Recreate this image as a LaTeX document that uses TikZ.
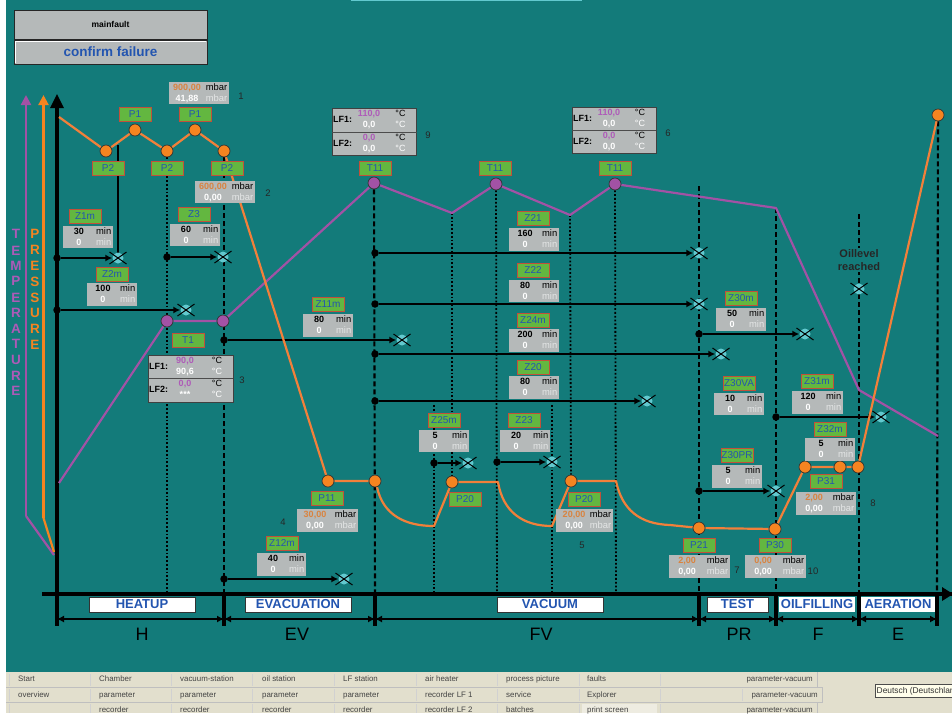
\documentclass[tikz,border=0pt]{standalone}
\usepackage{fontspec}
\setmainfont{Liberation Sans}
\usetikzlibrary{arrows.meta,shapes.misc,calc}
\definecolor{tealbg}{HTML}{137B7A}
\definecolor{gboxc}{HTML}{B5B9B9}
\definecolor{greenl}{HTML}{63B740}
\definecolor{redl}{HTML}{C2503A}
\definecolor{bluet}{HTML}{2355B0}
\definecolor{orangel}{HTML}{F2803A}
\definecolor{orangec}{HTML}{F58420}
\definecolor{purplel}{HTML}{A252A5}
\definecolor{orangev}{HTML}{D9833F}
\definecolor{purplev}{HTML}{AE5AB8}
\definecolor{beige}{HTML}{E2DFCD}
\definecolor{cyanv}{HTML}{62C9CF}
\definecolor{lightt}{HTML}{E4E6E6}
\definecolor{paneltxt}{HTML}{444444}
\pgfdeclarelayer{under}
\pgfsetlayers{under,main}
\tikzset{
  greenbox/.style={draw=redl,line width=1pt,fill=greenl,text=bluet,minimum width=32pt,minimum height=14pt,inner sep=0pt,font=\fontsize{10}{12}\selectfont},
  gbox/.style={fill=gboxc,inner sep=0pt,outer sep=0pt},
  lfframe/.style={fill=gboxc,draw=black!75,line width=0.8pt,inner sep=0pt,outer sep=0pt},
  vt/.style={inner sep=0pt,anchor=mid,font=\fontsize{9}{10}\selectfont},
  vb/.style={inner sep=0pt,anchor=mid,font=\bfseries\fontsize{9}{10}\selectfont},
  vr/.style={inner sep=0pt,anchor=mid east,font=\fontsize{9.4}{10}\selectfont},
  vblob/.style={circle,fill=cyanv,minimum size=11pt,inner sep=0pt},
  vcross/.style={cross out,draw=black,line width=1pt,minimum width=16pt,minimum height=11pt,inner sep=0pt},
  dotb/.style={circle,fill=black,minimum size=7.5pt,inner sep=0pt},
  oc/.style={circle,draw=black!80,line width=0.7pt,fill=orangec,minimum size=12pt,inner sep=0pt},
  pc/.style={circle,draw=black!80,line width=0.7pt,fill=purplel,minimum size=12pt,inner sep=0pt},
  conn/.style={black,line width=1.5pt,-{Latex[length=7pt,width=7pt]}},
  dashv/.style={black,line width=2.1pt,dash pattern=on 5pt off 3pt},
  dotv/.style={black,line width=1.8pt,dash pattern=on 1.8pt off 2pt},
  oline/.style={orangel,line width=2.2pt,line join=round},
  pline/.style={purplel,line width=2.2pt,line join=round},
  tickv/.style={black,line width=3.6pt},
  dim/.style={black,line width=1.3pt,{Latex[length=7pt,width=7pt]}-{Latex[length=7pt,width=7pt]}},
  secbox/.style={fill=white,draw=black!80,line width=0.6pt,text=bluet,font=\bfseries\fontsize{13}{15}\selectfont,inner sep=0pt,minimum height=15pt},
  secboxn/.style={fill=white,text=bluet,font=\bfseries\fontsize{13}{15}\selectfont,inner sep=0pt,minimum height=15pt},
  bigl/.style={black,font=\fontsize{18}{20}\selectfont,inner sep=0pt},
  smalln/.style={text=black!85,font=\fontsize{9.5}{10}\selectfont,inner sep=0pt},
  vtemp/.style={text=purplev,font=\bfseries\fontsize{13.5}{14}\selectfont,inner sep=0pt},
  vpres/.style={text=orangec,font=\bfseries\fontsize{13.5}{14}\selectfont,inner sep=0pt},
  ptx/.style={text=paneltxt,anchor=mid west,inner sep=0pt,font=\fontsize{7.9}{10}\selectfont},
  ptr/.style={text=paneltxt,anchor=mid east,inner sep=0pt,font=\fontsize{7.9}{10}\selectfont},
}
\newcommand\valoff{16}
% name x1 y1 x2 y2 set act unit setcolor
\newcommand\valbox[9]{%
  \node[gbox,minimum width={(#4-#2)*1pt},minimum height={(#5-#3)*1pt}] (#1) at ({(#2+#4)/2},{(#3+#5)/2}) {};
  \node[vb,text=#9] (#1s) at ({#2+\valoff},{#3+6}) {#6};
  \node[vb,text=white] (#1a) at ({#2+\valoff},{#3+17}) {#7};
  \node[vr,text=black] (#1u) at ({#4-1.5},{#3+6}) {#8};
  \node[vr,text=lightt] (#1w) at ({#4-1.5},{#3+17}) {#8};
}
\newcommand\tmin[7]{\valbox{#1}{#2}{#3}{#4}{#5}{#6}{#7}{min}{black}}
\newcommand\tmbar[7]{\renewcommand\valoff{18}\valbox{#1}{#2}{#3}{#4}{#5}{#6}{#7}{mbar}{orangev}\renewcommand\valoff{16}}
% name x1 y1 x2 y2 ydiv
\newcommand\lfb[6]{%
  \node[lfframe,minimum width={(#4-#2)*1pt},minimum height={(#5-#3)*1pt}] (#1) at ({(#2+#4)/2},{(#3+#5)/2}) {};
  \draw[black!70,line width=0.8pt] (#2,#6) -- (#4,#6);
  \node[vb,anchor=mid west] (#1l1) at ({#2+1},{#3+12}) {LF1:};
  \node[vb,anchor=mid west] (#1l2) at ({#2+1},{#6+12}) {LF2:};
  \node[vt] (#1c1) at ({#4-16},{#3+6}) {°C};
  \node[vt,text=white] (#1c2) at ({#4-16},{#3+17}) {°C};
  \node[vt] (#1c3) at ({#4-16},{#6+6}) {°C};
  \node[vt,text=white] (#1c4) at ({#4-16},{#6+17}) {°C};
}
\newcommand\lfv[7]{%
  \node[vb,text=purplev] (#1s1) at ({#2+37},{#3+6}) {#5};
  \node[vb,text=white] (#1a1) at ({#2+37},{#3+17}) {#6};
  \node[vb,text=purplev] (#1s2) at ({#2+37},{#4+6}) {#7};
}
\newcommand\valv[3]{\node[vblob] (#1) at (#2,#3) {};\node[vcross] (#1x) at (#2,#3) {};}
\begin{document}
\begin{tikzpicture}[x=1pt,y=-1pt]
\useasboundingbox (0,0) rectangle (952,713);
\begin{pgfonlayer}{under}
\fill[tealbg] (0,0) rectangle (952,672);
\fill[white] (0,0) rectangle (6,713);
\fill[beige] (6,672) rectangle (952,713);
\fill[cyanv] (351,0) rectangle (582,1);
\end{pgfonlayer}
% top buttons
\node[fill=gboxc,draw=black!85,line width=0.8pt,minimum width=193pt,minimum height=29pt,inner sep=0pt,font=\bfseries\fontsize{8.5}{10}\selectfont] (mainf) at (110.5,24.5) {mainfault};
\node[fill=gboxc,draw=black!85,line width=0.8pt,minimum width=193pt,minimum height=24pt,inner sep=0pt,text=bluet,font=\bfseries\fontsize{13.5}{15}\selectfont] (confirm) at (110.5,52) {confirm failure};
\draw[white,line width=0.8pt] ($(confirm.south west)+(1.5,-1.5)$) |- ($(confirm.north east)+(-1.5,1.5)$);
% markers
\foreach \n/\x/\y in {o1/106/151,o2/135/130,o3/167/151,o4/195/130,o5/224/151,o6/328/481,o7/375/481,o8/452/482,o9/571/481,o10/699/528,o11/775/529,o12/805/467,o13/840/467,o14/858/467,o15/938/115}
  \node[oc] (\n) at (\x,\y) {};
\foreach \n/\x/\y in {p1/167/321,p2/223/321,p3/374/183,p4/496/184,p5/615/184}
  \node[pc] (\n) at (\x,\y) {};
% points
\coordinate (ax0) at (42,594);\coordinate (ax1) at (952,594);
\foreach \n/\x in {a/57,b/224,c/375,d/699,e/776,f/859,g/937}{
  \coordinate (t\n) at (\x,594);\coordinate (u\n) at (\x,626);\coordinate (m\n) at (\x,619);}
% dots
\foreach \n/\x/\y in {d1/57/258,d2/57/310,d3/167/257,d4/224/340,d5/375/253,d6/375/304,d7/375/354,d8/375/401,d9/434/463,d10/497/462,d11/224/579,d12/699/334,d13/699/491,d14/776/417}
  \node[dotb] (\n) at (\x,\y) {};
% valves
\valv{v1}{118}{258}\valv{v2}{186}{310}\valv{v3}{223}{257}\valv{v4}{402}{340}
\valv{v5}{699}{253}\valv{v6}{699}{304}\valv{v7}{721}{354}\valv{v8}{647}{401}
\valv{v9}{468}{463}\valv{v10}{552}{462}\valv{v11}{344}{579}\valv{v12}{805}{334}
\valv{v13}{776}{491}\valv{v14}{881}{417}\valv{v15}{859}{289}
\begin{pgfonlayer}{under}
% axes
\draw[purplel,line width=2.2pt,-{Triangle[length=10pt,width=10pt]}] (26,516) -- (26,95);
\draw[purplel,line width=2.2pt] (26,516) -- (54,555);
\draw[orangec,line width=2.2pt,-{Triangle[length=10pt,width=10pt]}] (43.5,518) -- (43.5,95);
\draw[orangec,line width=2.2pt] (43.5,518) -- (54,552);
% verticals
\draw[black,line width=1.6pt] (118,145) -- (118,258);
\draw[dotv] (o3) -- (167,594);
\draw[dashv] (o5) -- (tb);
\draw[dashv] (p3) -- (tc);
\draw[dotv] (434,405) -- (434,594);
\draw[dotv] (452,213) -- (o8);
\draw[dotv] (p4) -- (497,594);
\draw[dotv] (552,405) -- (552,594);
\draw[dotv] (570,215) -- (o9);
\draw[dotv] (p5) -- (616,594);
\draw[dashv] (699,186) -- (td);
\draw[dashv] (776,208) -- (te);
\draw[dashv] (859,214) -- (tf);
\draw[dashv] (o15) -- (tg);
% connectors
\foreach \a/\b in {d1/v1,d2/v2,d3/v3,d4/v4,d5/v5,d6/v6,d7/v7,d8/v8,d9/v9,d10/v10,d11/v11,d12/v12,d13/v13,d14/v14}
  \draw[conn] (\a) -- (\b);
% main axis
\draw[black,line width=4pt] (57,108) -- (57,626);
\fill[black] (57,94) -- (64,108) -- (50,108) -- cycle;
\draw[black,line width=3.6pt] (ax0) -- (ax1);
\fill[black] (942,587) -- (953,594) -- (942,601) -- cycle;
\foreach \n in {b,c,d,e,f,g} \draw[tickv] (t\n) -- (u\n);
\draw[dim] (ma) -- (mb);\draw[dim] (mb) -- (mc);\draw[dim] (mc) -- (md);
\draw[dim] (md) -- (me);\draw[dim] (me) -- (mf);\draw[dim] (mf) -- (mg);
% purple curve
\draw[pline] (59,483) -- (p1) -- (p2) -- (p3) -- (452,213) -- (p4) -- (570,215) -- (p5) -- (776,208) -- (859,390) -- (938,436);
% orange curve
\draw[oline] (59,117) -- (o1) -- (o2) -- (o3) -- (o4) -- (o5) -- (o6) -- (o7);
\draw[oline] (377,487) .. controls (383,515) and (405,526) .. (434,526) -- (o8) -- (498,482) .. controls (503,512) and (523,526) .. (552,526) -- (o9) -- (616,481) .. controls (622,510) and (640,524) .. (670,525) -- (o10) -- (o11) -- (o12) -- (o13) -- (o14) -- (o15);
\end{pgfonlayer}
% green labels
\foreach \n/\lab/\x/\y in {g1/P1/135/114,g2/P1/195/114,g3/P2/108/168,g4/P2/167/168,g5/P2/227/168,g6/Z1m/85/216,g7/Z3/194/214,g8/Z2m/112/274,g9/T1/188/340,g10/Z11m/328/304,g11/T11/375/168,g12/T11/495/168,g13/T11/615/168,g14/Z21/533/218,g15/Z22/533/270,g16/Z24m/533/320,g17/Z20/533/367,g18/Z25m/444/420,g19/Z23/524/420,g20/Z30m/741/298,g21/Z30VA/739/383,g22/Z31m/817/381,g23/Z32m/830/429,g24/Z30PR/737/455,g25/P31/826/481,g26/P11/327/498,g27/P20/465/499,g28/P20/584/499,g29/P21/699/545,g30/P30/775/545,g31/Z12m/282/543}
  \node[greenbox] (\n) at (\x,\y) {\lab};
% value boxes
\tmbar{b1}{169}{82}{229}{104}{900,00}{41,88}
\tmbar{b2}{195}{181}{255}{203}{600,00}{0,00}
\tmin{b3}{63}{226}{113}{248}{30}{0}
\tmin{b4}{170}{224}{220}{246}{60}{0}
\tmin{b5}{87}{283}{137}{306}{100}{0}
\tmin{b6}{303}{314}{353}{337}{80}{0}
\tmin{b7}{509}{228}{559}{251}{160}{0}
\tmin{b8}{509}{280}{559}{302}{80}{0}
\tmin{b9}{509}{329}{559}{352}{200}{0}
\tmin{b10}{509}{376}{559}{399}{80}{0}
\tmin{b11}{419}{430}{469}{452}{5}{0}
\tmin{b12}{500}{430}{550}{452}{20}{0}
\tmbar{b13}{556}{509}{613}{532}{20,00}{0,00}
\tmbar{b14}{297}{509}{358}{532}{30,00}{0,00}
\tmin{b15}{257}{553}{306}{576}{40}{0}
\tmin{b16}{716}{308}{766}{331}{50}{0}
\tmin{b17}{714}{393}{764}{415}{10}{0}
\tmin{b18}{792}{391}{843}{414}{120}{0}
\tmin{b19}{805}{438}{855}{461}{5}{0}
\tmin{b20}{712}{465}{762}{488}{5}{0}
\tmbar{b21}{796}{492}{856}{515}{2,00}{0,00}
\tmbar{b22}{669}{555}{730}{578}{2,00}{0,00}
\tmbar{b23}{745}{555}{806}{578}{0,00}{0,00}
% LF boxes
\lfb{l1}{148}{355}{233}{402}{378}
\lfv{l1v}{148}{355}{378}{90,0}{90,6}{0,0}
\node[vb,text=white] (l1a2) at (185,395) {***};
\lfb{l2}{332}{108}{416.5}{155}{132}
\lfv{l2v}{332}{108}{132}{110,0}{0,0}{0,0}
\node[vb,text=white] (l2a2) at (369,149) {0,0};
\lfb{l3}{572}{107}{656}{153}{130}
\lfv{l3v}{572}{107}{130}{110,0}{0,0}{0,0}
\node[vb,text=white] (l3a2) at (609,147) {0,0};
% small numbers
\node[smalln] (n1) at (241,96) {1};
\node[smalln] (n2) at (268,193) {2};
\node[smalln] (n3) at (242,380) {3};
\node[smalln] (n4) at (283,522) {4};
\node[smalln] (n5) at (582,545) {5};
\node[smalln] (n6) at (668,133) {6};
\node[smalln] (n7) at (737,570) {7};
\node[smalln] (n8) at (873,503) {8};
\node[smalln] (n9) at (428,135) {9};
\node[smalln] (n10) at (813,571) {10};
% oil level
\node[fill=tealbg,align=center,inner sep=1pt,font=\bfseries\fontsize{11}{13}\selectfont,text=black!85] (oil) at (859,260) {Oillevel\\reached};
% vertical words
\foreach \n/\ch/\y in {1/T/234,2/E/251,3/M/266,4/P/281,5/E/298,6/R/313,7/A/329,8/T/344,9/U/360,10/R/376,11/E/391}
  \node[vtemp] (vt\n) at (16,\y) {\ch};
\foreach \n/\ch/\y in {1/P/234,2/R/250,3/E/266,4/S/282,5/S/298,6/U/313,7/R/329,8/E/345}
  \node[vpres] (vp\n) at (35,\y) {\ch};
% section labels
\node[secbox,minimum width=106pt] (s1) at (142,604.5) {HEATUP};
\node[secbox,minimum width=106pt] (s2) at (298,604.5) {EVACUATION};
\node[secbox,minimum width=106pt] (s3) at (550,604.5) {VACUUM};
\node[secbox,minimum width=61pt] (s4) at (737.5,604.5) {TEST};
\node[secboxn,minimum width=76pt] (s5) at (817,604.5) {OILFILLING};
\node[secboxn,minimum width=74pt] (s6) at (898,604.5) {AERATION};
\node[bigl] (h1) at (142,634) {H};
\node[bigl] (h2) at (297,634) {EV};
\node[bigl] (h3) at (541,634) {FV};
\node[bigl] (h4) at (739,634) {PR};
\node[bigl] (h5) at (818,634) {F};
\node[bigl] (h6) at (898,634) {E};
% bottom panel
\begin{pgfonlayer}{under}
\fill[beige!60!white] (582,704) rectangle (657,713);
\draw[black!25,line width=0.8pt] (6,687) -- (822,687);
\draw[black!25,line width=0.8pt] (6,702.5) -- (822,702.5);
\draw[black!25,line width=0.8pt] (817,672) -- (817,687);
\draw[black!25,line width=0.8pt] (822,687) -- (822,702.5);
\draw[black!25,line width=0.8pt] (817,702.5) -- (817,713);
\foreach \x in {90,171,252,334,416,497,579,660} \draw[black!18,line width=0.8pt] (\x,674) -- (\x,686) (\x,689) -- (\x,701) (\x,704) -- (\x,713);
\draw[black!18,line width=0.8pt] (742,689) -- (742,701);
\draw[black!18,line width=0.8pt] (9,674) -- (9,686) (9,689) -- (9,701) (9,704) -- (9,713);
\end{pgfonlayer}
\foreach \n/\x/\lab in {a/18/Start,b/99/Chamber,c/180/vacuum-station,d/262/oil station,e/343/LF station,f/425/air heater,h/506/process picture,i/587/faults}
  \node[ptx] (r1\n) at (\x,679) {\lab};
\foreach \n/\x/\lab in {a/18/overview,b/99/parameter,c/180/parameter,d/262/parameter,e/343/parameter,f/425/recorder LF 1,h/506/service,i/587/Explorer}
  \node[ptx] (r2\n) at (\x,695) {\lab};
\foreach \n/\x/\lab in {b/99/recorder,c/180/recorder,d/262/recorder,e/343/recorder,f/425/recorder LF 2,h/506/batches,i/587/print screen}
  \node[ptx] (r3\n) at (\x,709.5) {\lab};
\node[ptr] (r1r) at (813,679) {parameter-vacuum};
\node[ptr] (r2r) at (818,695) {parameter-vacuum};
\node[ptr] (r3r) at (813,709.5) {parameter-vacuum};
\path[fill=yellow!8!white,draw=black!70,line width=0.6pt] (875,684) rectangle (953,697);
\node[ptx,text=black!80,font=\fontsize{8.4}{10}\selectfont] (lang) at (876.5,690.5) {Deutsch (Deutschlan};
\end{tikzpicture}
\end{document}
